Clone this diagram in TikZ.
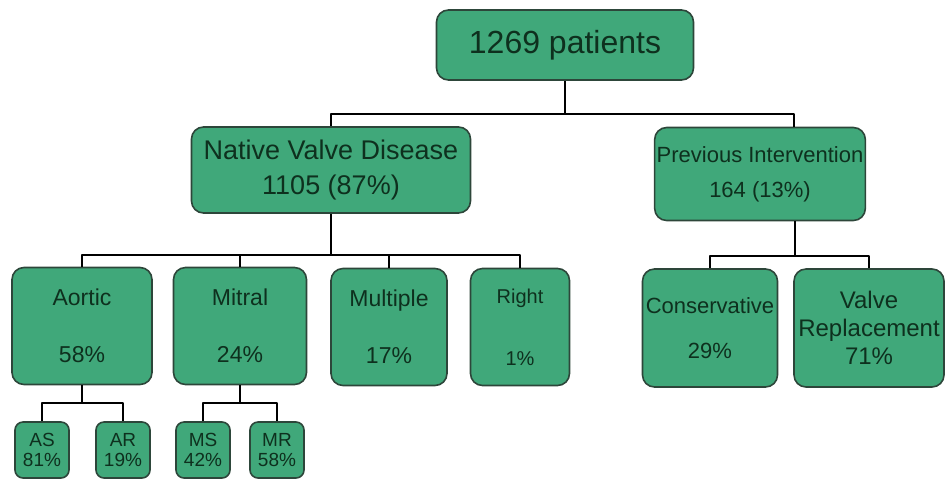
\documentclass[tikz,border=0pt]{standalone}
\usepackage{fontspec}
\setmainfont{Liberation Sans}
\definecolor{boxgreen}{RGB}{64,168,122}
\definecolor{boxline}{RGB}{45,70,58}
\definecolor{boxtext}{RGB}{14,48,30}
\begin{document}
\begin{tikzpicture}[x=0.5pt,y=-0.5pt,line join=round,
	box/.style={draw=boxline,fill=boxgreen,line width=0.8pt,rounded corners=6pt,text=boxtext,align=center,inner sep=1pt},
	tiny/.style={box,rounded corners=4pt,minimum width=27pt,minimum height=28pt,font=\fontsize{9.5}{10}\selectfont},
	mid/.style={box,minimum height=58.5pt,font=\fontsize{11.5}{13.5}\selectfont},
	link/.style={line width=1.4pt}]
	\useasboundingbox (0,0) rectangle (945,483);
	\node[box,minimum width=128.5pt,minimum height=35pt,font=\fontsize{16}{19}\selectfont] (all) at (565,45) {1269 patients};
	\node[box,minimum width=139.5pt,minimum height=43pt,font=\fontsize{13.5}{17.5}\selectfont] (nvd) at (331,170) {Native Valve Disease\\1105 (87\%)};
	\node[box,minimum width=104pt,minimum height=46.5pt,font=\fontsize{11}{17.5}\selectfont] (prev) at (760,174) {Previous Intervention\\164 (13\%)};
	% native valve disease
	\node[mid,minimum width=70pt] (aor) at (82,326) {Aortic\\[15pt]58\%};
	\node[mid,minimum width=66.5pt] (mit) at (240,326) {Mitral\\[15pt]24\%};
	\node[mid,minimum width=58pt] (mul) at (389,327) {Multiple\\[15pt]17\%};
	\node[mid,minimum width=49.5pt,font=\fontsize{10}{12}\selectfont] (rgt) at (520,327) {Right\\[19pt]1\%};
	% previous intervention
	\node[box,minimum width=67.5pt,minimum height=59pt,font=\fontsize{11}{13.5}\selectfont] (con) at (710,328) {Conservative\\[9pt]29\%};
	\node[box,minimum width=75pt,minimum height=59pt,font=\fontsize{12}{14}\selectfont] (rep) at (869,328) {Valve\\Replacement\\71\%};
	% valve lesions
	\node[tiny] (as) at (42,450) {AS\\81\%};
	\node[tiny] (ar) at (123,450) {AR\\19\%};
	\node[tiny] (ms) at (203,450) {MS\\42\%};
	\node[tiny] (mr) at (277,450) {MR\\58\%};
	\coordinate (j1) at (565,114);
	\coordinate (j2) at (331,255);
	\coordinate (j3) at (795,256);
	\coordinate (j4) at (82,403);
	\coordinate (j5) at (240,403);
	\draw[link] (all.south) -- (j1) (nvd.north) |- (j1) -| ([xshift=17pt]prev.north);
	\draw[link] (nvd.south) -- (j2) (aor.north) |- (j2) -| (rgt.north)
		(mit.north) -- (mit.north |- j2) (mul.north) -- (mul.north |- j2);
	\draw[link] ([xshift=17.5pt]prev.south) -- (j3) (con.north) |- (j3) -| (rep.north);
	\draw[link] (aor.south) -- (j4) (as.north) |- (j4) -| (ar.north);
	\draw[link] (mit.south) -- (j5) (ms.north) |- (j5) -| (mr.north);
\end{tikzpicture}
\end{document}
